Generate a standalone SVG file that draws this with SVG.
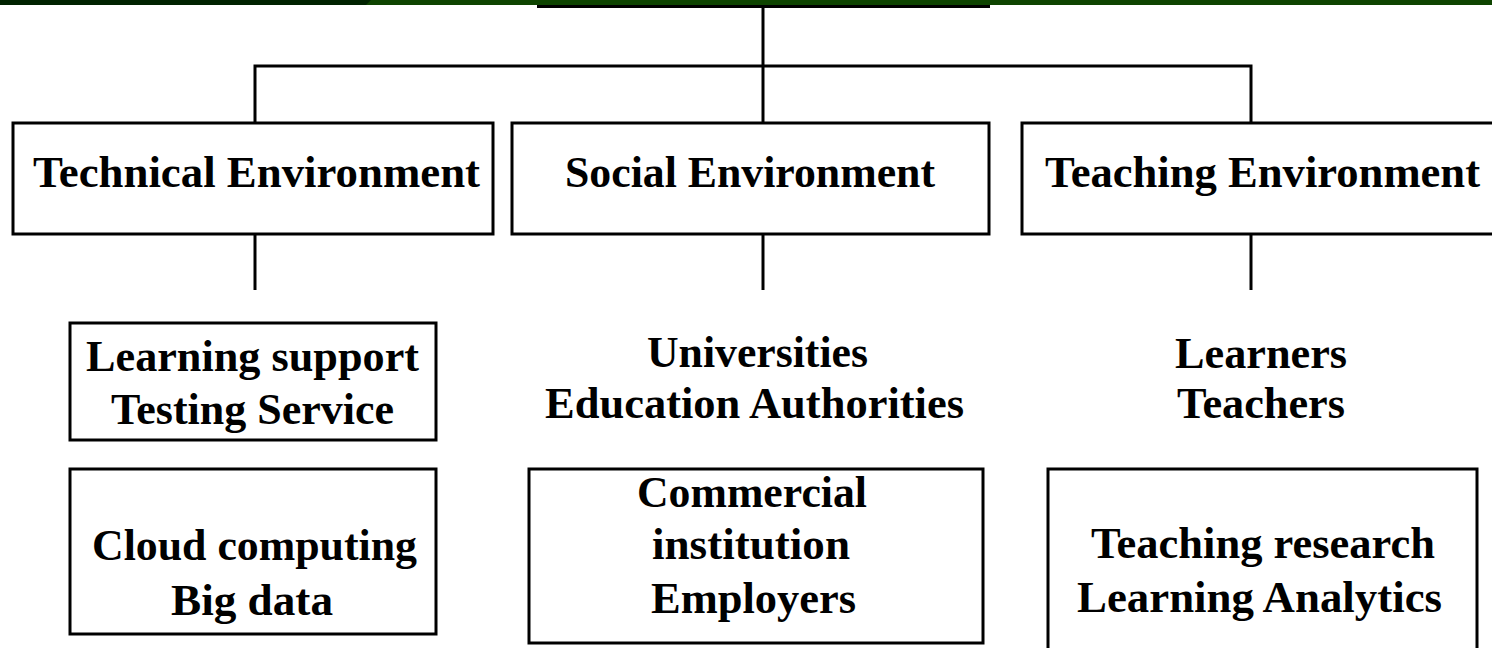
<svg xmlns="http://www.w3.org/2000/svg" width="1492" height="648" viewBox="0 0 1492 648">
<style>
.box{fill:#fff;stroke:#000;stroke-width:3}
.ln{stroke:#000;stroke-width:3;fill:none}
text{font-family:"Liberation Serif","Times New Roman",serif;font-weight:bold;font-size:45px;fill:#000;text-anchor:middle}
</style>
<rect x="0" y="0" width="1492" height="648" fill="#fff"/>
<g id="header">
<rect x="0" y="0" width="1492" height="5" fill="#0e4400"/>
<polygon points="0,0 371,0 366,5 0,5" fill="#002200"/>
<rect x="537" y="5" width="453" height="3" fill="#000"/>
</g>
<g id="connectors">
<line class="ln" x1="763" y1="8" x2="763" y2="123"/>
<polyline class="ln" points="255,123 255,66 1251,66 1251,123"/>
<line class="ln" x1="255" y1="234" x2="255" y2="290"/>
<line class="ln" x1="763" y1="234" x2="763" y2="290"/>
<line class="ln" x1="1251" y1="234" x2="1251" y2="290"/>
</g>
<g id="technical">
<rect class="box" x="13" y="123" width="480" height="111"/>
<text x="256.5" y="187" textLength="447" lengthAdjust="spacingAndGlyphs">Technical Environment</text>
</g>
<g id="social">
<rect class="box" x="512" y="123" width="477" height="111"/>
<text x="750" y="187" textLength="370" lengthAdjust="spacingAndGlyphs">Social Environment</text>
</g>
<g id="teaching">
<rect class="box" x="1022" y="123" width="480" height="111"/>
<text x="1262.5" y="187" textLength="435" lengthAdjust="spacingAndGlyphs">Teaching Environment</text>
</g>
<g id="learning-support">
<rect class="box" x="70" y="323" width="366" height="117"/>
<text x="252.5" y="371" textLength="333" lengthAdjust="spacingAndGlyphs">Learning support</text>
<text x="252.5" y="424" textLength="283" lengthAdjust="spacingAndGlyphs">Testing Service</text>
</g>
<g id="cloud">
<rect class="box" x="70" y="469" width="366" height="165"/>
<text x="254.5" y="560" textLength="325" lengthAdjust="spacingAndGlyphs">Cloud computing</text>
<text x="252" y="615" textLength="162" lengthAdjust="spacingAndGlyphs">Big data</text>
</g>
<g id="universities">
<text x="757.5" y="367" textLength="221" lengthAdjust="spacingAndGlyphs">Universities</text>
<text x="754.5" y="418" textLength="419" lengthAdjust="spacingAndGlyphs">Education Authorities</text>
</g>
<g id="commercial">
<rect class="box" x="529" y="469" width="454" height="174"/>
<text x="752" y="507" textLength="230" lengthAdjust="spacingAndGlyphs">Commercial</text>
<text x="751" y="559" textLength="198" lengthAdjust="spacingAndGlyphs">institution</text>
<text x="753.5" y="613" textLength="205" lengthAdjust="spacingAndGlyphs">Employers</text>
</g>
<g id="learners">
<text x="1261" y="368" textLength="172" lengthAdjust="spacingAndGlyphs">Learners</text>
<text x="1261" y="418" textLength="168" lengthAdjust="spacingAndGlyphs">Teachers</text>
</g>
<g id="research">
<rect class="box" x="1048" y="469" width="429" height="200"/>
<text x="1263" y="558" textLength="344" lengthAdjust="spacingAndGlyphs">Teaching research</text>
<text x="1259.5" y="612" textLength="365" lengthAdjust="spacingAndGlyphs">Learning Analytics</text>
</g>
</svg>
